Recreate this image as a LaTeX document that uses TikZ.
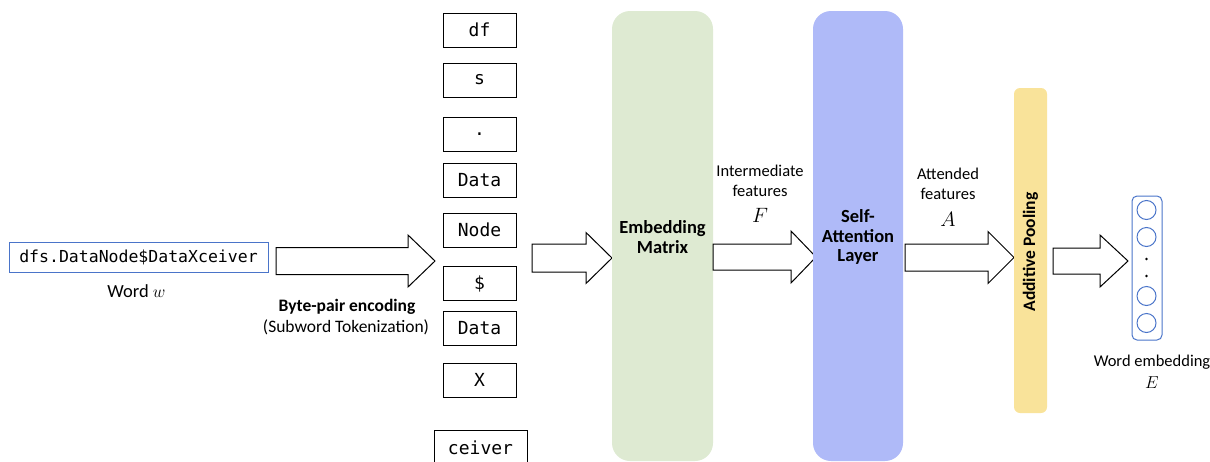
\documentclass[tikz,border=0pt]{standalone}
\usepackage{fontspec}
\setmainfont{Carlito}
\setmonofont{DejaVu Sans Mono}
\usetikzlibrary{calc}
\definecolor{embgreen}{HTML}{DEEAD2}
\definecolor{attblue}{HTML}{AFBAF8}
\definecolor{poolyel}{HTML}{F9E39A}
\definecolor{wordblue}{HTML}{4A74C9}
\tikzset{
  tok/.style={draw=black, line width=0.9pt, minimum width=73pt, minimum height=34pt, inner sep=0pt, font=\ttfamily\fontsize{18}{20}\selectfont},
  lbl/.style={font=\fontsize{16.5}{20}\selectfont, align=center, inner sep=0pt},
  blbl/.style={font=\bfseries\fontsize{18.5}{19.5}\selectfont, align=center, inner sep=0pt},
  mlbl/.style={font=\fontsize{22}{24}\selectfont, inner sep=0pt},
  barrow/.style={draw=black, line width=1pt, fill=white, line join=miter},
  neuron/.style={circle, draw=wordblue, line width=1pt, minimum size=19pt, inner sep=0pt},
}
% \blockarrow{xstart}{xbase}{xtip}{ycenter}{shafthalf}{headhalf}
\newcommand{\blockarrow}[6]{%
  \draw[barrow] (#1,#4-#5) -- (#2,#4-#5) -- (#2,#4-#6) -- (#3,#4) -- (#2,#4+#6) -- (#2,#4+#5) -- (#1,#4+#5) -- cycle;}
\begin{document}
\begin{tikzpicture}[x=1pt,y=-1pt]
\useasboundingbox (0,0) rectangle (1210,461);
% input word
\node[draw=wordblue, line width=1pt, minimum width=259pt, minimum height=30pt, inner sep=0pt,
  font=\ttfamily\fontsize{16.5}{18}\selectfont] (word) at (138.5,257) {dfs.DataNode\$DataXceiver};
\node[lbl, font=\fontsize{18.5}{20}\selectfont] (wordlbl) at (136.5,291) {Word $w$};
% BPE arrow
\blockarrow{276}{408}{435}{261}{13.5}{26}
\node[font=\bfseries\fontsize{17.5}{20}\selectfont, inner sep=0pt] (bpe) at (347,307) {Byte-pair encoding};
\node[font=\fontsize{17.5}{20}\selectfont, inner sep=0pt] (subw) at (346,327) {(Subword Tokenization)};
% tokens
\node[tok] (t1) at (479.5,30) {df};
\node[tok] (t2) at (479.5,80) {s};
\node[tok] (t3) at (479.5,134) {.};
\node[tok] (t4) at (479.5,180) {Data};
\node[tok] (t5) at (479.5,230) {Node};
\node[tok] (t6) at (479.5,283.5) {\$};
\node[tok] (t7) at (479.5,328.5) {Data};
\node[tok] (t8) at (479.5,380) {X};
\node[tok, minimum width=93pt, minimum height=36pt] (t9) at (480.5,448) {ceiver};
% arrow to embedding
\blockarrow{532}{586}{612}{258}{14}{25.5}
% embedding matrix
\fill[embgreen, rounded corners=18pt] (612,11) rectangle (713,461);
\node[blbl] (emb) at (662.5,237) {Embedding\\Matrix};
% arrow F
\blockarrow{713}{791}{816}{257}{13}{26}
\node[lbl] (interm) at (760,181) {Intermediate\\features};
\node[mlbl] (F) at (760,215) {$F$};
% self attention
\fill[attblue, rounded corners=18pt] (813,11) rectangle (903,461);
\node[blbl] (att) at (858,237) {Self-\\Attention\\Layer};
% arrow A
\blockarrow{905}{988}{1014}{257.5}{13.5}{26}
\node[lbl] (attended) at (948,184) {Attended\\features};
\node[mlbl] (A) at (948,219) {$A$};
% additive pooling
\fill[poolyel, rounded corners=6pt] (1014,88) rectangle (1047,413);
\node[rotate=90, font=\bfseries\fontsize{17.5}{19}\selectfont, inner sep=0pt] (pool) at (1030.5,252) {Additive Pooling};
% arrow to embedding vector
\blockarrow{1053}{1100}{1128}{261}{13}{26}
% output vector
\node[draw=wordblue, line width=1pt, rounded corners=5pt, minimum width=30pt, minimum height=144pt, inner sep=0pt] (vec) at (1147,268) {};
\node[neuron] (n1) at (1146.5,210) {};
\node[neuron] (n2) at (1146.5,237) {};
\node[neuron] (n3) at (1146.5,296) {};
\node[neuron] (n4) at (1146.5,323) {};
\fill (1146.5,259) circle (1.3pt);
\fill (1146.5,276) circle (1.3pt);
\node[lbl] (wemb) at (1152,362) {Word embedding};
\node[font=\fontsize{18}{20}\selectfont, inner sep=0pt] (E) at (1152,383) {$E$};
\end{tikzpicture}
\end{document}
